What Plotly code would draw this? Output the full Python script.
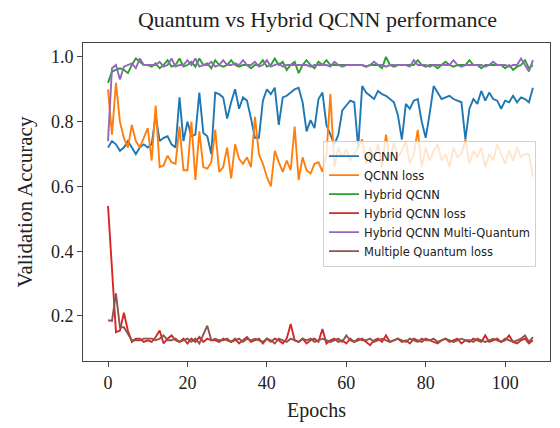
import plotly.graph_objects as go

epochs = list(range(108))

qcnn = [0.72, 0.74, 0.73, 0.71, 0.72, 0.74, 0.72, 0.70, 0.72, 0.73,
        0.72, 0.73, 0.82, 0.74, 0.75, 0.755, 0.73, 0.72, 0.875, 0.74,
        0.80, 0.755, 0.76, 0.89, 0.765, 0.755, 0.70, 0.89, 0.885, 0.875,
        0.81, 0.86, 0.90, 0.84, 0.875, 0.865, 0.81, 0.75, 0.75, 0.865,
        0.90, 0.885, 0.905, 0.79, 0.875, 0.88, 0.89, 0.90, 0.905, 0.86,
        0.77, 0.805, 0.78, 0.87, 0.89, 0.79, 0.76, 0.73, 0.76, 0.835,
        0.85, 0.865, 0.86, 0.72, 0.91, 0.89, 0.88, 0.87, 0.895, 0.885,
        0.88, 0.87, 0.86, 0.82, 0.745, 0.855, 0.84, 0.865, 0.87, 0.80,
        0.75, 0.825, 0.91, 0.89, 0.87, 0.875, 0.88, 0.87, 0.865, 0.86,
        0.745, 0.84, 0.87, 0.855, 0.895, 0.865, 0.89, 0.87, 0.865, 0.84,
        0.865, 0.86, 0.88, 0.86, 0.875, 0.87, 0.86, 0.905]

qcnn_loss = [0.90, 0.76, 0.92, 0.80, 0.75, 0.72, 0.79, 0.74, 0.72, 0.75,
             0.78, 0.68, 0.85, 0.66, 0.665, 0.695, 0.675, 0.67, 0.785, 0.65,
             0.65, 0.80, 0.62, 0.77, 0.66, 0.655, 0.675, 0.775, 0.645, 0.66,
             0.72, 0.625, 0.73, 0.685, 0.67, 0.69, 0.66, 0.815, 0.70, 0.67,
             0.63, 0.60, 0.71, 0.675, 0.645, 0.68, 0.65, 0.785, 0.62, 0.69,
             0.65, 0.64, 0.67, 0.675, 0.645, 0.70, 0.885, 0.66, 0.72, 0.69,
             0.715, 0.68, 0.70, 0.72, 0.745, 0.67, 0.72, 0.69, 0.73, 0.66,
             0.76, 0.68, 0.735, 0.69, 0.71, 0.74, 0.67, 0.70, 0.775, 0.66,
             0.72, 0.68, 0.71, 0.73, 0.68, 0.70, 0.66, 0.72, 0.69, 0.70,
             0.745, 0.67, 0.71, 0.69, 0.72, 0.66, 0.70, 0.68, 0.73, 0.70,
             0.67, 0.71, 0.68, 0.72, 0.69, 0.70, 0.70, 0.63]

hybrid = [0.92, 0.955, 0.96, 0.965, 0.96, 0.95, 0.975, 0.995, 0.985, 0.975,
          0.975, 0.97, 0.98, 0.965, 0.975, 0.99, 0.97, 0.975, 0.995, 0.97,
          0.975, 0.985, 0.97, 0.995, 0.975, 0.98, 0.965, 0.99, 0.975, 0.97,
          0.975, 0.99, 0.975, 0.97, 0.975, 0.975, 0.965, 0.975, 0.975, 0.99,
          0.97, 0.975, 0.995, 0.975, 0.985, 0.96, 0.975, 0.985, 0.95, 0.975,
          0.99, 0.975, 0.965, 0.985, 0.975, 0.99, 0.975, 0.975, 0.975, 0.975,
          0.975, 0.975, 0.975, 0.975, 0.975, 0.97, 0.975, 0.975, 0.975, 0.965,
          1.0, 0.975, 0.97, 0.975, 0.975, 0.975, 0.975, 0.975, 0.99, 0.975,
          0.97, 0.975, 0.975, 0.965, 0.975, 0.985, 0.975, 0.97, 0.975, 0.975,
          0.975, 0.99, 0.975, 0.975, 0.965, 0.975, 0.975, 0.975, 0.975, 0.975,
          0.965, 0.975, 0.96, 0.97, 0.975, 0.99, 0.965, 0.975]

hybrid_loss = [0.54, 0.33, 0.15, 0.155, 0.21, 0.155, 0.12, 0.13, 0.13, 0.12,
               0.125, 0.12, 0.135, 0.155, 0.115, 0.13, 0.14, 0.125, 0.12, 0.13,
               0.115, 0.13, 0.12, 0.135, 0.12, 0.13, 0.125, 0.125, 0.12, 0.13,
               0.125, 0.12, 0.13, 0.115, 0.125, 0.135, 0.12, 0.125, 0.13, 0.115,
               0.13, 0.12, 0.13, 0.125, 0.115, 0.13, 0.175, 0.125, 0.12, 0.13,
               0.115, 0.125, 0.13, 0.12, 0.16, 0.115, 0.125, 0.13, 0.12, 0.125,
               0.115, 0.13, 0.12, 0.125, 0.13, 0.12, 0.11, 0.125, 0.13, 0.12,
               0.14, 0.12, 0.125, 0.13, 0.12, 0.125, 0.115, 0.13, 0.125, 0.12,
               0.13, 0.125, 0.12, 0.115, 0.125, 0.13, 0.12, 0.125, 0.13, 0.115,
               0.125, 0.12, 0.13, 0.125, 0.12, 0.14, 0.12, 0.125, 0.13, 0.12,
               0.125, 0.14, 0.12, 0.115, 0.125, 0.13, 0.115, 0.125]

multi_quantum = [0.74, 0.965, 0.975, 0.93, 0.97, 0.975, 0.98, 0.965, 0.995, 0.975,
                 0.975, 0.975, 0.975, 0.985, 0.97, 0.975, 0.995, 0.97, 0.975, 0.975,
                 0.99, 0.975, 0.995, 0.97, 0.975, 0.975, 0.985, 0.97, 0.975, 0.99,
                 0.975, 0.975, 0.98, 0.975, 0.99, 0.975, 0.975, 0.985, 0.97, 0.975,
                 0.99, 0.97, 0.975, 0.98, 0.97, 0.975, 0.975, 0.975, 0.975, 0.975,
                 0.975, 0.97, 0.975, 0.975, 0.975, 0.975, 0.97, 0.985, 0.975, 0.97,
                 0.975, 0.975, 0.975, 0.975, 0.975, 0.97, 0.975, 0.985, 0.975, 0.975,
                 0.97, 0.975, 0.975, 0.975, 0.975, 0.975, 0.97, 0.99, 0.975, 0.975,
                 0.975, 0.97, 0.975, 0.975, 0.975, 0.975, 0.975, 0.99, 0.975, 0.97,
                 0.975, 0.975, 0.975, 0.975, 0.975, 0.97, 0.975, 0.985, 0.975, 0.975,
                 0.975, 0.97, 0.975, 0.975, 0.995, 0.975, 0.955, 0.99]

multi_loss = [0.187, 0.185, 0.27, 0.165, 0.165, 0.145, 0.125, 0.125, 0.125, 0.13,
              0.13, 0.13, 0.125, 0.13, 0.14, 0.125, 0.125, 0.13, 0.12, 0.125,
              0.13, 0.12, 0.13, 0.115, 0.14, 0.17, 0.125, 0.13, 0.125, 0.125,
              0.13, 0.12, 0.125, 0.13, 0.12, 0.13, 0.125, 0.13, 0.125, 0.12,
              0.13, 0.125, 0.115, 0.13, 0.125, 0.12, 0.13, 0.125, 0.12, 0.13,
              0.125, 0.13, 0.12, 0.125, 0.13, 0.125, 0.12, 0.125, 0.13, 0.12,
              0.14, 0.125, 0.12, 0.13, 0.125, 0.125, 0.13, 0.12, 0.125, 0.13,
              0.125, 0.12, 0.125, 0.13, 0.125, 0.12, 0.13, 0.125, 0.12, 0.13,
              0.125, 0.125, 0.13, 0.12, 0.125, 0.13, 0.125, 0.12, 0.125, 0.13,
              0.125, 0.125, 0.12, 0.13, 0.125, 0.12, 0.125, 0.13, 0.125, 0.12,
              0.13, 0.125, 0.12, 0.125, 0.13, 0.14, 0.12, 0.135]

series = [
    ("QCNN", qcnn, "#1f77b4"),
    ("QCNN loss", qcnn_loss, "#ff7f0e"),
    ("Hybrid QCNN", hybrid, "#2ca02c"),
    ("Hybrid QCNN loss", hybrid_loss, "#d62728"),
    ("Hybrid QCNN Multi-Quantum", multi_quantum, "#9467bd"),
    ("Multiple Quantum loss", multi_loss, "#8c564b"),
]

x_ticks = [0, 20, 40, 60, 80, 100]
y_ticks = [0.2, 0.4, 0.6, 0.8, 1.0]
y_tick_text = ["0.2", "0.4", "0.6", "0.8", "1.0"]

fig = go.Figure()
for name, vals, color in series:
    fig.add_trace(go.Scatter(x=epochs, y=vals, mode="lines", name=name,
                             line=dict(color=color, width=1.9)))

serif = "Liberation Serif, Times New Roman, serif"
fig.update_layout(
    width=560, height=428,
    margin=dict(l=83, r=10, t=43, b=67, autoexpand=False),
    paper_bgcolor="white", plot_bgcolor="white",
    title=dict(text="Quantum vs Hybrid QCNN performance", x=0.567, xanchor="center",
               y=0.955, yanchor="middle",
               font=dict(family=serif, size=22, color="#222")),
    font=dict(family=serif, color="#222"),
    showlegend=True,
    legend=dict(x=0.514, xanchor="left", y=0.693, yanchor="top",
                bgcolor="rgba(255,255,255,0.8)", bordercolor="#d0d0d0", borderwidth=1,
                font=dict(family="DejaVu Sans, sans-serif", size=11.5, color="#222"),
                itemwidth=30),
    xaxis=dict(range=[-6.3, 111.3], tickvals=x_ticks, showgrid=False, zeroline=False,
               automargin=False,
               showline=True, linecolor="#444", linewidth=1, mirror=True,
               ticks="outside", ticklen=5, tickcolor="#444",
               tickfont=dict(family=serif, size=18, color="#222"),
               title=dict(text="Epochs", font=dict(family=serif, size=20, color="#222"), standoff=11)),
    yaxis=dict(range=[0.061, 1.043], tickvals=y_ticks, ticktext=y_tick_text,
               showgrid=False, zeroline=False, automargin=False,
               showline=True, linecolor="#444", linewidth=1, mirror=True,
               ticks="outside", ticklen=5, tickcolor="#444",
               tickfont=dict(family=serif, size=18, color="#222"),
               title=dict(text="Validation Accuracy", font=dict(family=serif, size=21, color="#222"), standoff=12)),
)

fig.write_html("out.html", config={"displayModeBar": False},
               post_script="document.body.style.margin='0';")
